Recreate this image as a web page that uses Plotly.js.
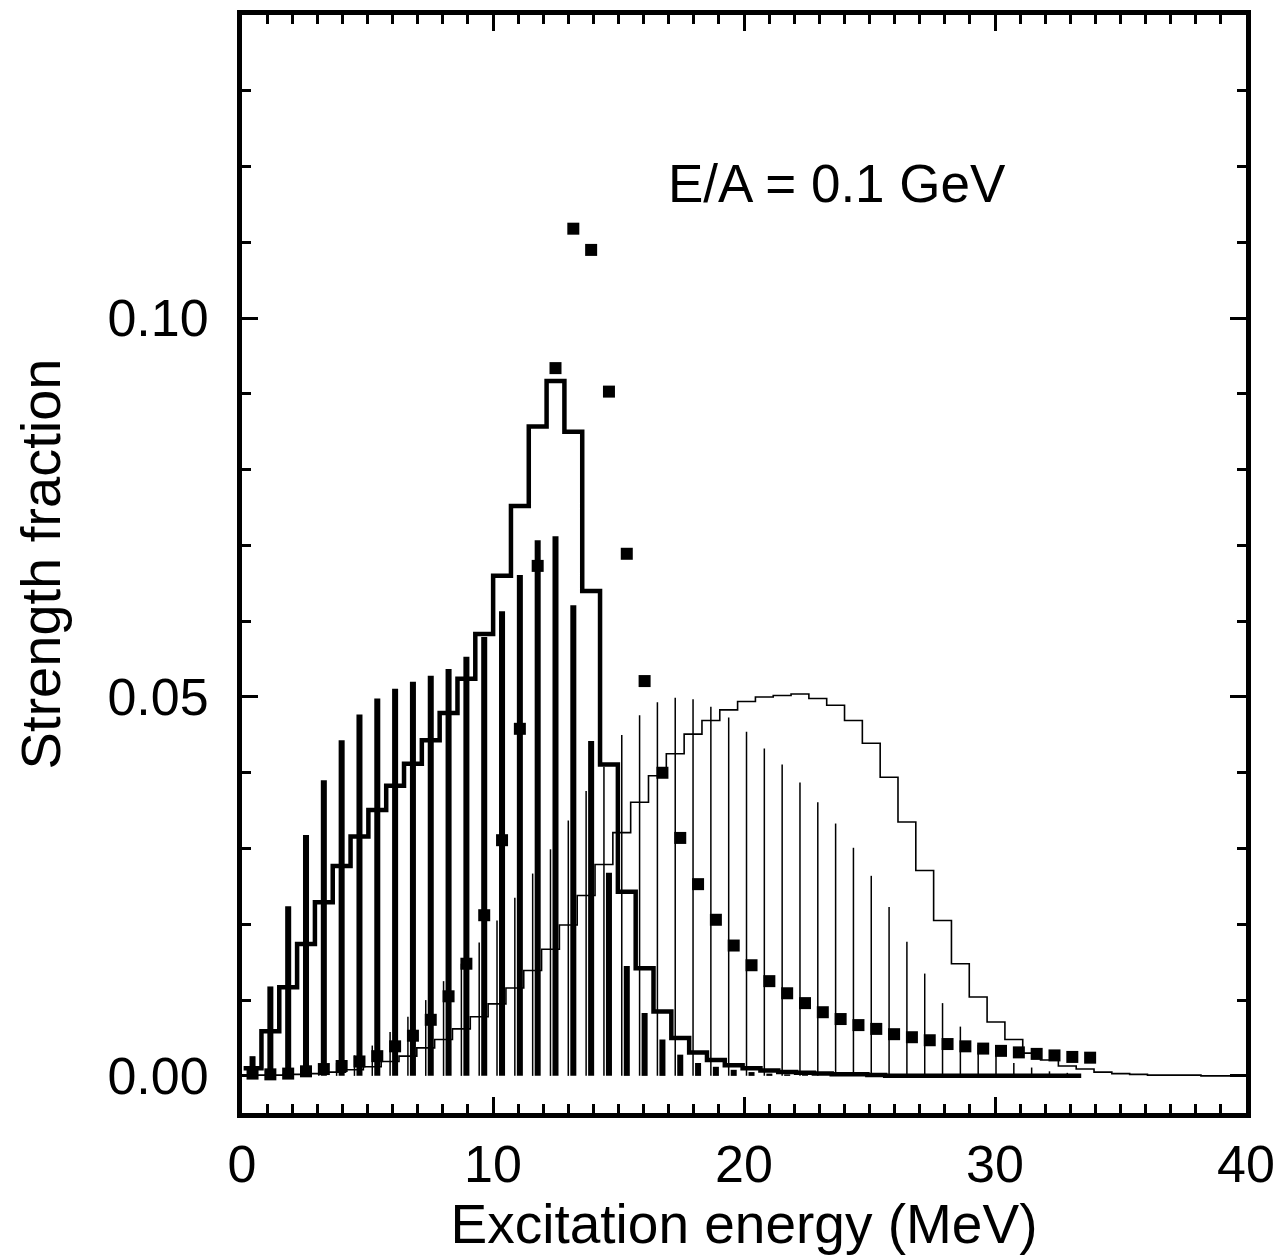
<!DOCTYPE html>
<html>
<head>
<meta charset="utf-8">
<script src="https://cdn.plot.ly/plotly-3.0.1.min.js"></script>
<style>html,body{margin:0;padding:0;background:#fff;}#chart{width:1279px;height:1260px;}</style>
</head>
<body>
<div id="chart"></div>
<script>
// Bin centres (MeV) of the thick set (histogram, sticks, squares)
var thickCenters = [0.42, 1.13, 1.84, 2.55, 3.26, 3.97, 4.68, 5.39, 6.10, 6.81, 7.52, 8.23, 8.94, 9.65, 10.36, 11.07, 11.78, 12.49, 13.20, 13.91, 14.62, 15.33, 16.04, 16.75, 17.46, 18.17, 18.88, 19.59, 20.30, 21.01, 21.72, 22.43, 23.14, 23.85, 24.56, 25.27, 25.98, 26.69, 27.40, 28.11, 28.82, 29.53, 30.24, 30.95, 31.66, 32.37, 33.08, 33.79];
// Bin centres (MeV) of the thin set (histogram, sticks)
var thinCenters = [0.22, 0.93, 1.64, 2.35, 3.06, 3.77, 4.48, 5.19, 5.90, 6.61, 7.32, 8.03, 8.74, 9.45, 10.16, 10.87, 11.58, 12.29, 13.00, 13.71, 14.42, 15.13, 15.84, 16.55, 17.26, 17.97, 18.68, 19.39, 20.10, 20.81, 21.52, 22.23, 22.94, 23.65, 24.36, 25.07, 25.78, 26.49, 27.20, 27.91, 28.62, 29.33, 30.04, 30.75, 31.46, 32.17, 32.88, 33.59, 34.30, 35.01, 35.72, 36.43, 37.14, 37.85, 38.56, 39.27, 39.98];

// Thick step histogram (bins at thickCenters[0..46])
var thickHist = [0.0010, 0.0059, 0.0117, 0.0174, 0.0229, 0.0277, 0.0316, 0.0351, 0.0383, 0.0412, 0.0443, 0.0479, 0.0524, 0.0583, 0.0660, 0.0752, 0.0857, 0.0917, 0.0850, 0.0640, 0.0411, 0.0243, 0.0142, 0.0085, 0.0050, 0.0031, 0.0021, 0.0014, 0.0010, 0.0007, 0.0005, 0.0004, 0.0003, 0.0002, 0.0002, 0.0001, 0, 0, 0, 0, 0, 0, 0, 0, 0, 0, 0];
// Thick sticks (at thickCenters[0..31])
var thickSticks = [0.0026, 0.0118, 0.0224, 0.0318, 0.0390, 0.0443, 0.0477, 0.0498, 0.0511, 0.0520, 0.0528, 0.0537, 0.0553, 0.0579, 0.0613, 0.0661, 0.0707, 0.0712, 0.0621, 0.0442, 0.0268, 0.0145, 0.0083, 0.0048, 0.0028, 0.0017, 0.0012, 0.0008, 0.0005, 0.0003, 0.0002, 0.0001];
// Squares (at thickCenters[0..47])
var squares = [0.0003, 0.0002, 0.0003, 0.0006, 0.0009, 0.0013, 0.0019, 0.0026, 0.0039, 0.0053, 0.0074, 0.0105, 0.0148, 0.0212, 0.0311, 0.0458, 0.0673, 0.0934, 0.1118, 0.1090, 0.0903, 0.0689, 0.0521, 0.0400, 0.0314, 0.0253, 0.0206, 0.0172, 0.0146, 0.0125, 0.0109, 0.0096, 0.0084, 0.0075, 0.0067, 0.0062, 0.0055, 0.0051, 0.0047, 0.0042, 0.0039, 0.0036, 0.0033, 0.0031, 0.0029, 0.0027, 0.0025, 0.0024];
// Thin sticks (at thinCenters[0..46])
var thinSticks = [0.0001, 0.0002, 0.0003, 0.0006, 0.0010, 0.0017, 0.0027, 0.0040, 0.0058, 0.0078, 0.0100, 0.0125, 0.0148, 0.0176, 0.0205, 0.0235, 0.0267, 0.0299, 0.0337, 0.0376, 0.0408, 0.0450, 0.0476, 0.0493, 0.0499, 0.0497, 0.0487, 0.0473, 0.0454, 0.0432, 0.0411, 0.0387, 0.0361, 0.0333, 0.0301, 0.0264, 0.0223, 0.0177, 0.0135, 0.0096, 0.0065, 0.0041, 0.0029, 0.0017, 0.0011, 0.0006, 0.0004];
// Thin step histogram (bins at thinCenters[0..56])
var thinHist = [0.0000, 0.0001, 0.0001, 0.0002, 0.0003, 0.0005, 0.0008, 0.0012, 0.0019, 0.0026, 0.0037, 0.0048, 0.0062, 0.0078, 0.0095, 0.0116, 0.0139, 0.0167, 0.0199, 0.0238, 0.0279, 0.0321, 0.0361, 0.0396, 0.0425, 0.0451, 0.0469, 0.0483, 0.0494, 0.0500, 0.0502, 0.0504, 0.0498, 0.0489, 0.0469, 0.0439, 0.0394, 0.0335, 0.0271, 0.0205, 0.0148, 0.0104, 0.0071, 0.0048, 0.0030, 0.0021, 0.0013, 0.0009, 0.0005, 0.0003, 0.0002, 0.0001, 0.0001, 0.0001, 0.0000, 0.0000, 0.0000];

var xTickVals = [0, 10, 20, 30, 40];
var yTickVals = [0, 0.05, 0.10];
var xTitle = 'Excitation energy (MeV)';
var yTitle = 'Strength fraction';
var label = 'E/A = 0.1 GeV';

var HALF = 0.355;
function steps(centers, vals) {
  var xs = [], ys = [];
  for (var i = 0; i < vals.length; i++) { xs.push(centers[i] - HALF); ys.push(vals[i]); }
  xs.push(centers[vals.length - 1] + HALF); ys.push(vals[vals.length - 1]);
  return {x: xs, y: ys};
}
var th = steps(thickCenters, thickHist);
var tn = steps(thinCenters, thinHist);

var FONT = 'Liberation Sans, Arial, Helvetica, sans-serif';
var traces = [
  {type: 'bar', x: thinCenters.slice(0, thinSticks.length), y: thinSticks, width: 0.06,
   marker: {color: '#000', line: {width: 0}}, hoverinfo: 'skip', showlegend: false},
  {type: 'bar', x: thickCenters.slice(0, thickSticks.length), y: thickSticks, width: 0.24,
   marker: {color: '#000', line: {width: 0}}, hoverinfo: 'skip', showlegend: false},
  {type: 'scatter', mode: 'lines', x: tn.x, y: tn.y, line: {shape: 'hv', color: '#000', width: 1.6},
   hoverinfo: 'skip', showlegend: false},
  {type: 'scatter', mode: 'lines', x: th.x, y: th.y, line: {shape: 'hv', color: '#000', width: 4.5},
   hoverinfo: 'skip', showlegend: false},
  {type: 'scatter', mode: 'markers', x: thickCenters.slice(0, squares.length), y: squares,
   marker: {symbol: 'square', size: 12, color: '#000', line: {width: 0}}, hoverinfo: 'skip', showlegend: false}
];

var axisCommon = {
  showgrid: false, zeroline: false, showline: true, linewidth: 5, linecolor: '#000',
  mirror: 'allticks', ticks: 'inside', ticklen: 16, tickwidth: 3, tickcolor: '#000',
  tickfont: {family: FONT, size: 52, color: '#000'}
};

var layout = {
  width: 1279, height: 1260,
  margin: {l: 242, r: 33, t: 15, b: 147},
  paper_bgcolor: '#fff', plot_bgcolor: '#fff',
  barmode: 'overlay', showlegend: false,
  xaxis: Object.assign({}, axisCommon, {
    range: [0, 40], tickmode: 'array', tickvals: xTickVals, ticktext: xTickVals.map(String),
    ticklabelstandoff: 2,
    minor: {dtick: 1, tick0: 0, ticks: 'inside', ticklen: 9, tickwidth: 3, tickcolor: '#000', showgrid: false},
    title: {text: xTitle, font: {family: FONT, size: 55, color: '#000'}, standoff: 2}
  }),
  yaxis: Object.assign({}, axisCommon, {
    range: [-0.0049, 0.14], tickmode: 'array', tickvals: yTickVals, ticktext: yTickVals.map(function(v){return v.toFixed(2);}),
    ticklabelstandoff: 18,
    minor: {dtick: 0.01, tick0: 0, ticks: 'inside', ticklen: 9, tickwidth: 3, tickcolor: '#000', showgrid: false},
    title: {text: yTitle, font: {family: FONT, size: 56, color: '#000'}, standoff: 30}
  }),
  annotations: [{
    text: label, x: 16.9, y: 0.1177, xref: 'x', yref: 'y', xanchor: 'left', yanchor: 'middle',
    showarrow: false, font: {family: FONT, size: 53, color: '#000'}
  }]
};

Plotly.newPlot('chart', traces, layout, {staticPlot: true, displayModeBar: false});
</script>
</body>
</html>
